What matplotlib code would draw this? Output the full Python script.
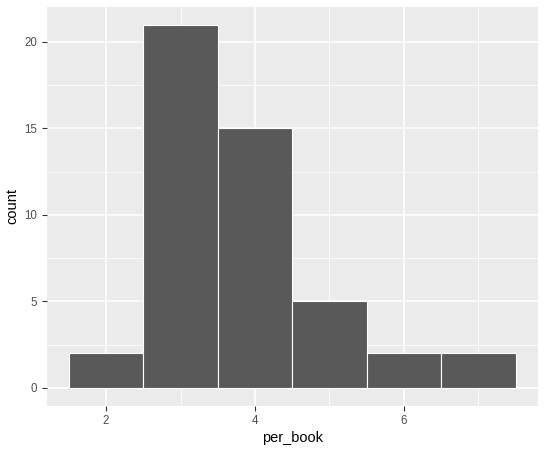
import matplotlib
matplotlib.use("Agg")
import matplotlib.pyplot as plt
import numpy as np

plt.rcParams['font.family'] = ['Liberation Sans', 'DejaVu Sans']

bin_centers = [2, 3, 4, 5, 6, 7]
counts = [2, 21, 15, 5, 2, 2]
bin_width = 1.0
x_ticks = [2, 4, 6]
y_ticks = [0, 5, 10, 15, 20]

fig = plt.figure(figsize=(5.46, 4.5), dpi=100)
W, H = 546, 450
left, right, top, bottom = 46.5, 538, 6.5, 406
ax = fig.add_axes([left / W, (H - bottom) / H, (right - left) / W, (bottom - top) / H])
ax.set_facecolor("#EBEBEB")

ax.set_xticks(x_ticks)
ax.set_yticks(y_ticks)
ax.set_xticks([3, 5, 7], minor=True)
ax.set_yticks([2.5, 7.5, 12.5, 17.5], minor=True)

xmin = min(bin_centers) - bin_width / 2
xmax = max(bin_centers) + bin_width / 2
pad = (xmax - xmin) * 0.05
ax.set_xlim(xmin - pad, xmax + pad)
ymax = max(counts)
ax.set_ylim(-ymax * 0.05, ymax * 1.05)

ax.grid(which="major", color="white", linewidth=1.1)
ax.grid(which="minor", color="white", linewidth=0.55)
ax.set_axisbelow(True)

ax.bar(bin_centers, counts, width=bin_width, color="#595959", edgecolor="white", linewidth=0.8, zorder=3)

for s in ax.spines.values():
    s.set_visible(False)
ax.tick_params(which="major", length=3.5, width=0.8, color="#333333", labelcolor="#4D4D4D", labelsize=8.3, pad=3)
ax.tick_params(which="minor", length=0)
ax.set_xlabel("per_book", fontsize=10.5, color="black", labelpad=3)
ax.set_ylabel("count", fontsize=10.5, color="black", labelpad=4)

fig.savefig("out.png", dpi=100)
